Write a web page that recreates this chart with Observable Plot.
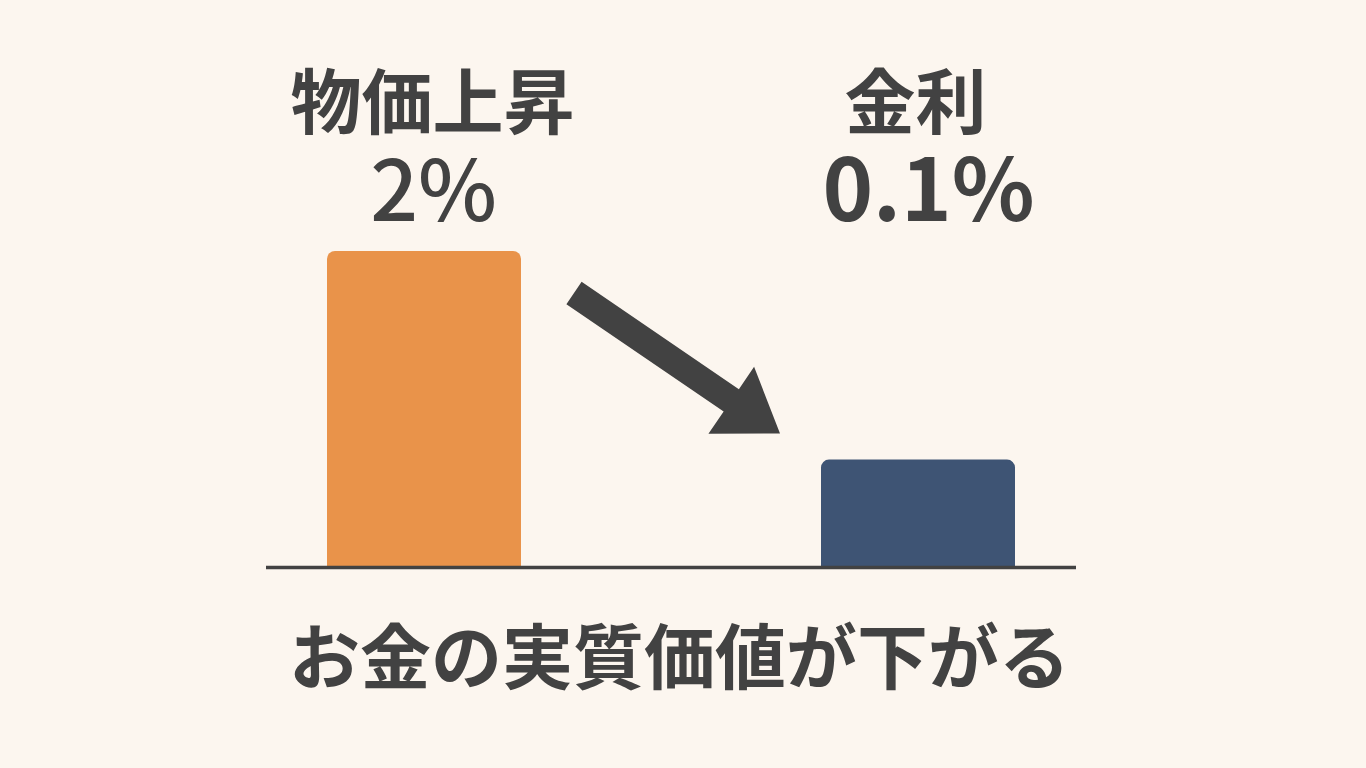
<!DOCTYPE html>
<html lang="ja">
<head>
<meta charset="utf-8">
<script src="https://cdn.jsdelivr.net/npm/d3@7"></script>
<script src="https://cdn.jsdelivr.net/npm/@observablehq/plot@0.6"></script>
<style>
  html, body { margin: 0; padding: 0; background: #fcf6ef; }
  #chart svg { display: block; }
</style>
</head>
<body>
<div id="chart"></div>
<script>
// ---- data ----
const categories = ["物価上昇", "金利"];
const valueLabels = ["2%", "0.1%"];
const barHeights = [100, 34];          // visual bar heights (relative)
const barColors = ["#e9934a", "#3e5474"];
const caption = "お金の実質価値が下がる";

const data = categories.map((c, i) => ({cat: c, label: valueLabels[i], h: barHeights[i], color: barColors[i]}));

const ink = "#424242";
const font = "'Noto Sans CJK JP', 'Noto Sans', sans-serif";

// arrow drawn from the bar geometry via the scales
function arrowMark(index, scales) {
  const X = scales.x, Y = scales.y;
  const bw = typeof X.bandwidth === "function" ? X.bandwidth() : X.bandwidth;
  const sx = X(categories[0]) + bw + 53, sy = Y(barHeights[0]) + 42;
  const tx = X(categories[1]) - 41, ty = Y(barHeights[1]) - 26;
  const L = Math.hypot(tx - sx, ty - sy);
  const ux = (tx - sx) / L, uy = (ty - sy) / L;
  const nx = -uy, ny = ux;
  const hw = 13.5, hh = 40.5, hl = 59;
  const bx = tx - ux * hl, by = ty - uy * hl;
  const pts = [
    [sx + nx * hw, sy + ny * hw],
    [bx + nx * hw, by + ny * hw],
    [bx + nx * hh, by + ny * hh],
    [tx, ty],
    [bx - nx * hh, by - ny * hh],
    [bx - nx * hw, by - ny * hw],
    [sx - nx * hw, sy - ny * hw]
  ];
  const path = d3.create("svg:path")
    .attr("d", "M" + pts.map(p => p.join(",")).join("L") + "Z")
    .attr("fill", ink);
  return path.node();
}

const chart = Plot.plot({
  width: 1366,
  height: 768,
  marginLeft: 266,
  marginRight: 290,
  marginTop: 0,
  marginBottom: 201,
  style: {background: "#fcf6ef", fontFamily: font},
  x: {type: "band", domain: categories, paddingInner: 0.608, paddingOuter: 0.123, axis: null},
  y: {domain: [0, 100], range: [567, 251], axis: null},
  marks: [
    Plot.barY(data, {x: "cat", y1: -5, y2: "h", fill: "color", rx: 8, clip: "frame"}),
    Plot.ruleY([0], {stroke: ink, strokeWidth: 3.5}),
    arrowMark,
    Plot.text(data.slice(0, 1), {x: "cat", text: "cat", frameAnchor: "top", lineAnchor: "bottom", dy: 127, dx: 8,
      fontSize: 71, fontWeight: 700, fill: ink}),
    Plot.text(data.slice(1), {x: "cat", text: "cat", frameAnchor: "top", lineAnchor: "bottom", dy: 127, dx: -3,
      fontSize: 71, fontWeight: 700, fill: ink}),
    Plot.text(data.slice(0, 1), {x: "cat", text: "label", frameAnchor: "top", lineAnchor: "bottom", dy: 220, dx: 9,
      fontSize: 84, fontWeight: 500, fill: ink}),
    Plot.text(data.slice(1), {x: "cat", text: "label", frameAnchor: "top", lineAnchor: "bottom", dy: 220, dx: 10,
      fontSize: 86, fontWeight: 700, fill: ink}),
    Plot.text([caption], {text: d => d, frameAnchor: "bottom", lineAnchor: "bottom", dy: 115, dx: 8,
      fontSize: 71, fontWeight: 700, fill: ink})
  ]
});
document.getElementById("chart").append(chart);
</script>
</body>
</html>
